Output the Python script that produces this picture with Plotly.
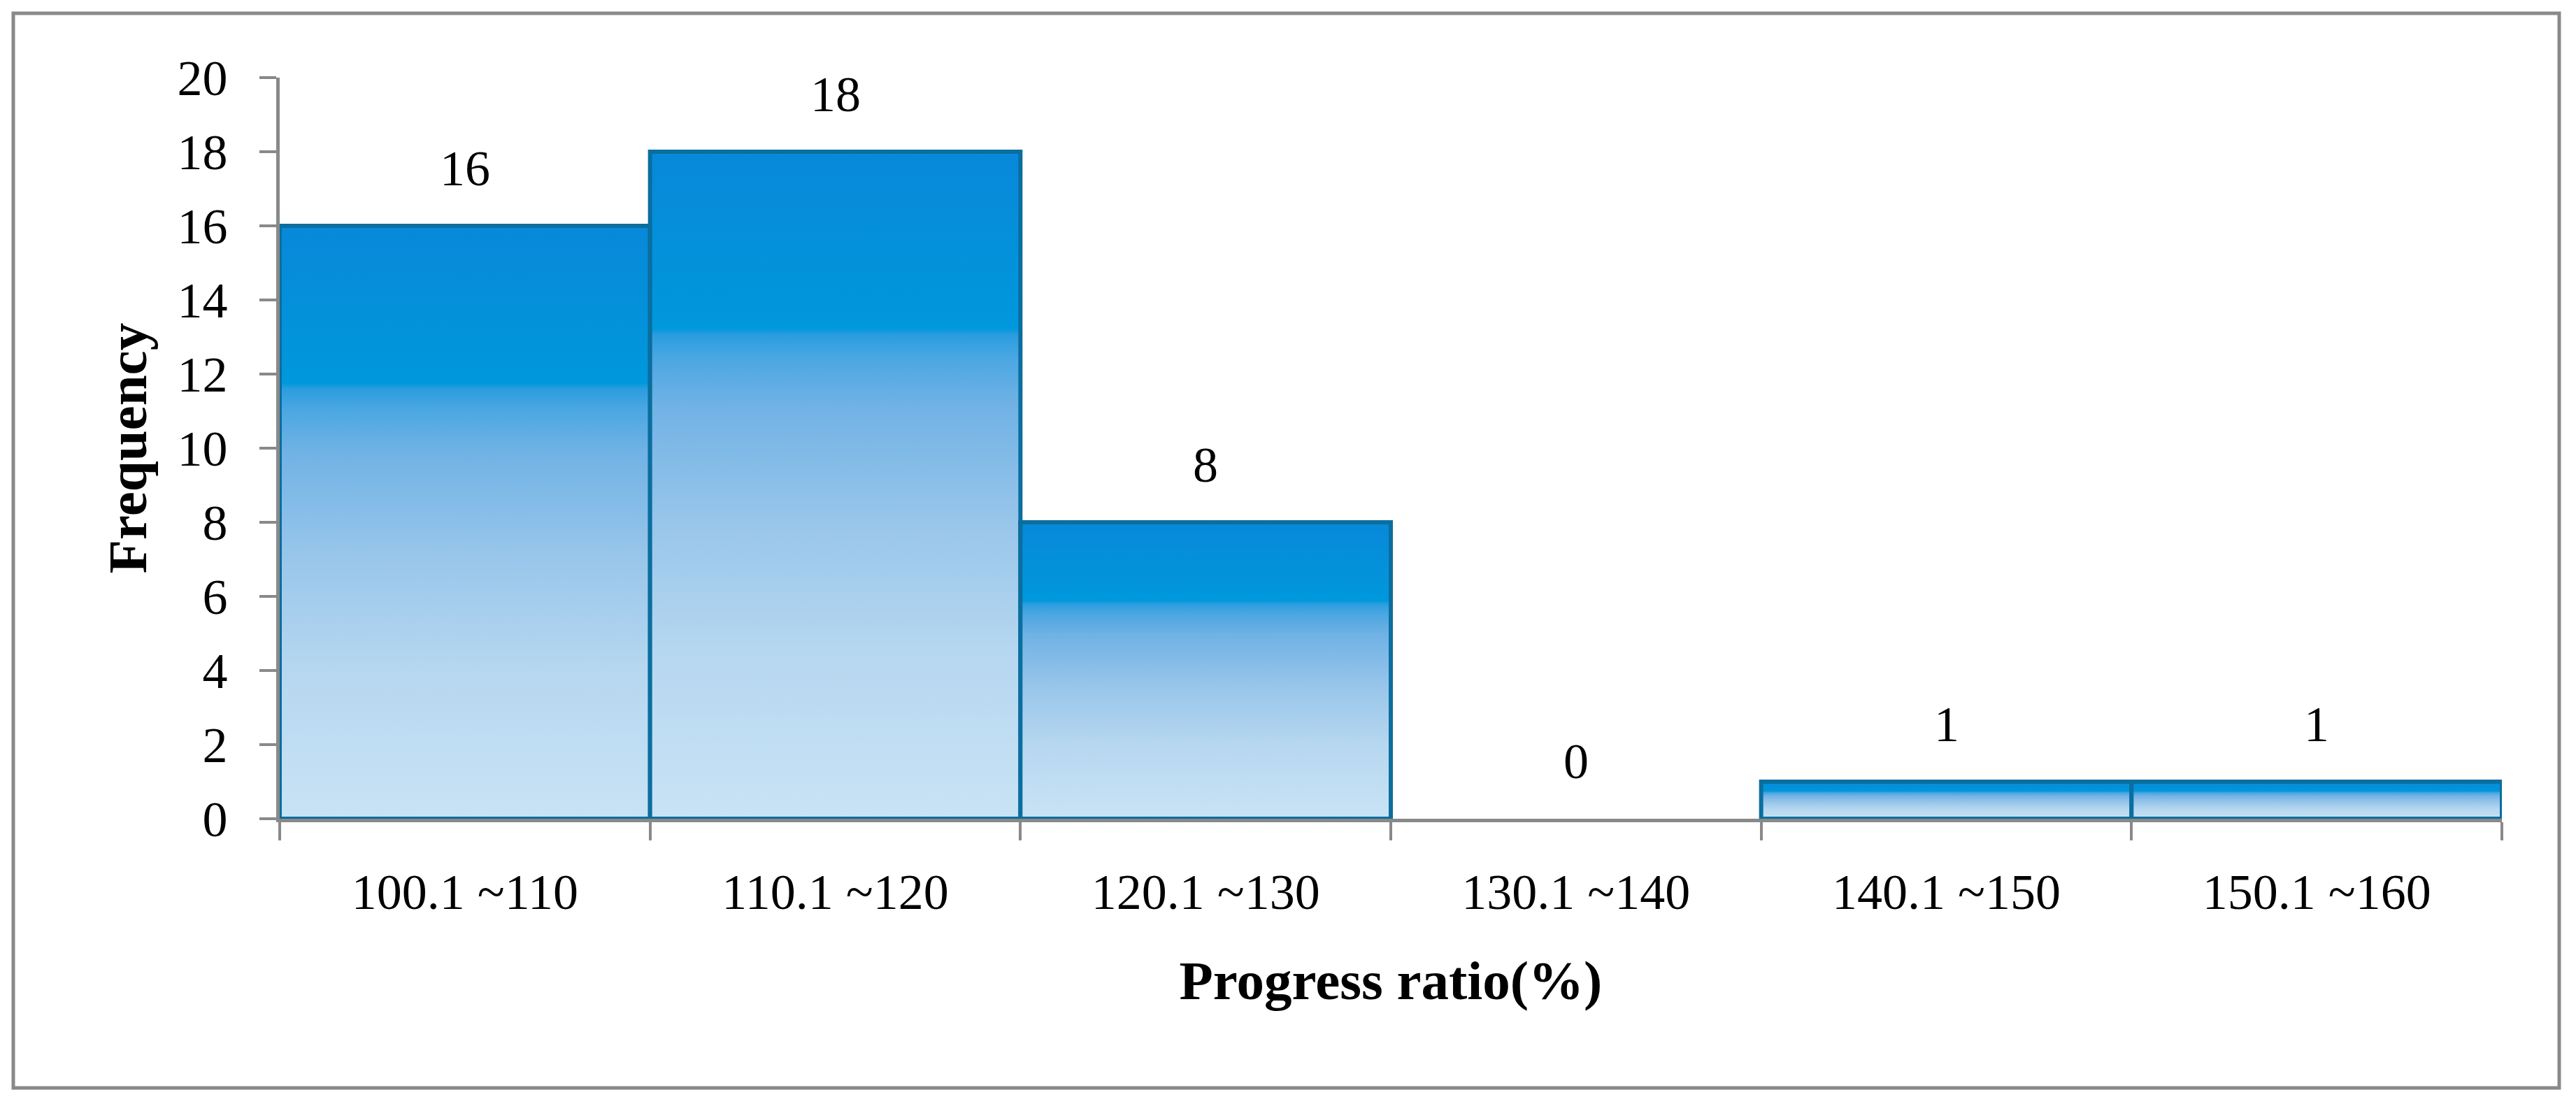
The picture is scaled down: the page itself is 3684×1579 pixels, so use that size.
import plotly.graph_objects as go

categories = ["100.1 ~110", "110.1 ~120", "120.1 ~130", "130.1 ~140", "140.1 ~150", "150.1 ~160"]
frequency = [16, 18, 8, 0, 1, 1]
y_ticks = [0, 2, 4, 6, 8, 10, 12, 14, 16, 18, 20]

x_title = "Progress ratio(%)"
y_title = "Frequency"

OUTLINE = "#0b6e9f"
GREY = "#898989"
FONT = "Liberation Serif"
GRAD = [
    [0.00, "#c9e3f5"],
    [0.25, "#b6d7f0"],
    [0.45, "#97c5ea"],
    [0.62, "#70b2e5"],
    [0.69, "#4ba7e2"],
    [0.725, "#2a9ddf"],
    [0.735, "#0098dc"],
    [1.00, "#0888d9"],
]

fig = go.Figure()

# data bars on the category axis
fig.add_trace(go.Bar(
    x=categories, y=frequency, width=1,
    marker=dict(color="#4aa6e3",
                line=dict(color=OUTLINE, width=[6 if v > 0 else 0 for v in frequency])),
    showlegend=False, hoverinfo="x+y",
))

# gradient overlay of the same bars (numeric overlay axis matching the category slots)
for i, v in enumerate(frequency):
    if v <= 0:
        continue
    fig.add_trace(go.Scatter(
        x=[i - 0.5, i - 0.5, i + 0.5, i + 0.5, i - 0.5],
        y=[0, v, v, 0, 0],
        xaxis="x2", yaxis="y",
        mode="lines", fill="toself",
        fillgradient=dict(type="vertical", colorscale=GRAD, start=0, stop=v),
        line=dict(color=OUTLINE, width=6),
        showlegend=False, hoverinfo="skip",
    ))

# value labels
for c, v in zip(categories, frequency):
    fig.add_annotation(
        x=c, y=v, xref="x", yref="y", text=str(v), showarrow=False,
        yanchor="bottom", yshift=40,
        font=dict(family=FONT, size=72, color="black"),
    )

fig.update_layout(
    width=3676, height=1571,
    margin=dict(l=392, r=106, t=103, b=408),
    paper_bgcolor="white", plot_bgcolor="white",
    bargap=0,
    xaxis=dict(
        type="category", range=[-0.5, 5.5], tickson="boundaries",
        ticks="outside", ticklen=26, tickwidth=4, tickcolor=GREY,
        showline=True, linecolor=GREY, linewidth=5, showgrid=False,
        tickfont=dict(family=FONT, size=72, color="black"),
        ticklabelstandoff=38,
        title=dict(text="<b>" + x_title + "</b>", standoff=60,
                   font=dict(family=FONT, size=79, color="black")),
        layer="above traces",
    ),
    xaxis2=dict(overlaying="x", range=[-0.5, 5.5], visible=False, showgrid=False),
    yaxis=dict(
        range=[0, 20], tickvals=y_ticks,
        ticks="outside", ticklen=24, tickwidth=4, tickcolor=GREY,
        showline=True, linecolor=GREY, linewidth=5, showgrid=False, zeroline=False,
        tickfont=dict(family=FONT, size=72, color="black"),
        ticklabelstandoff=31,
        title=dict(text="<b>" + y_title + "</b>", standoff=19,
                   font=dict(family=FONT, size=79, color="black")),
        layer="above traces",
    ),
    font=dict(family=FONT, color="black"),
)

# outer frame
fig.add_shape(type="rect", xref="paper", yref="paper",
              x0=(19 - 400) / 3178, x1=(3660 - 400) / 3178,
              y0=(1171 - 1556) / 1060, y1=(1171 - 19) / 1060,
              line=dict(color=GREY, width=5), fillcolor="rgba(0,0,0,0)", layer="below")

fig.write_html("out.html")
